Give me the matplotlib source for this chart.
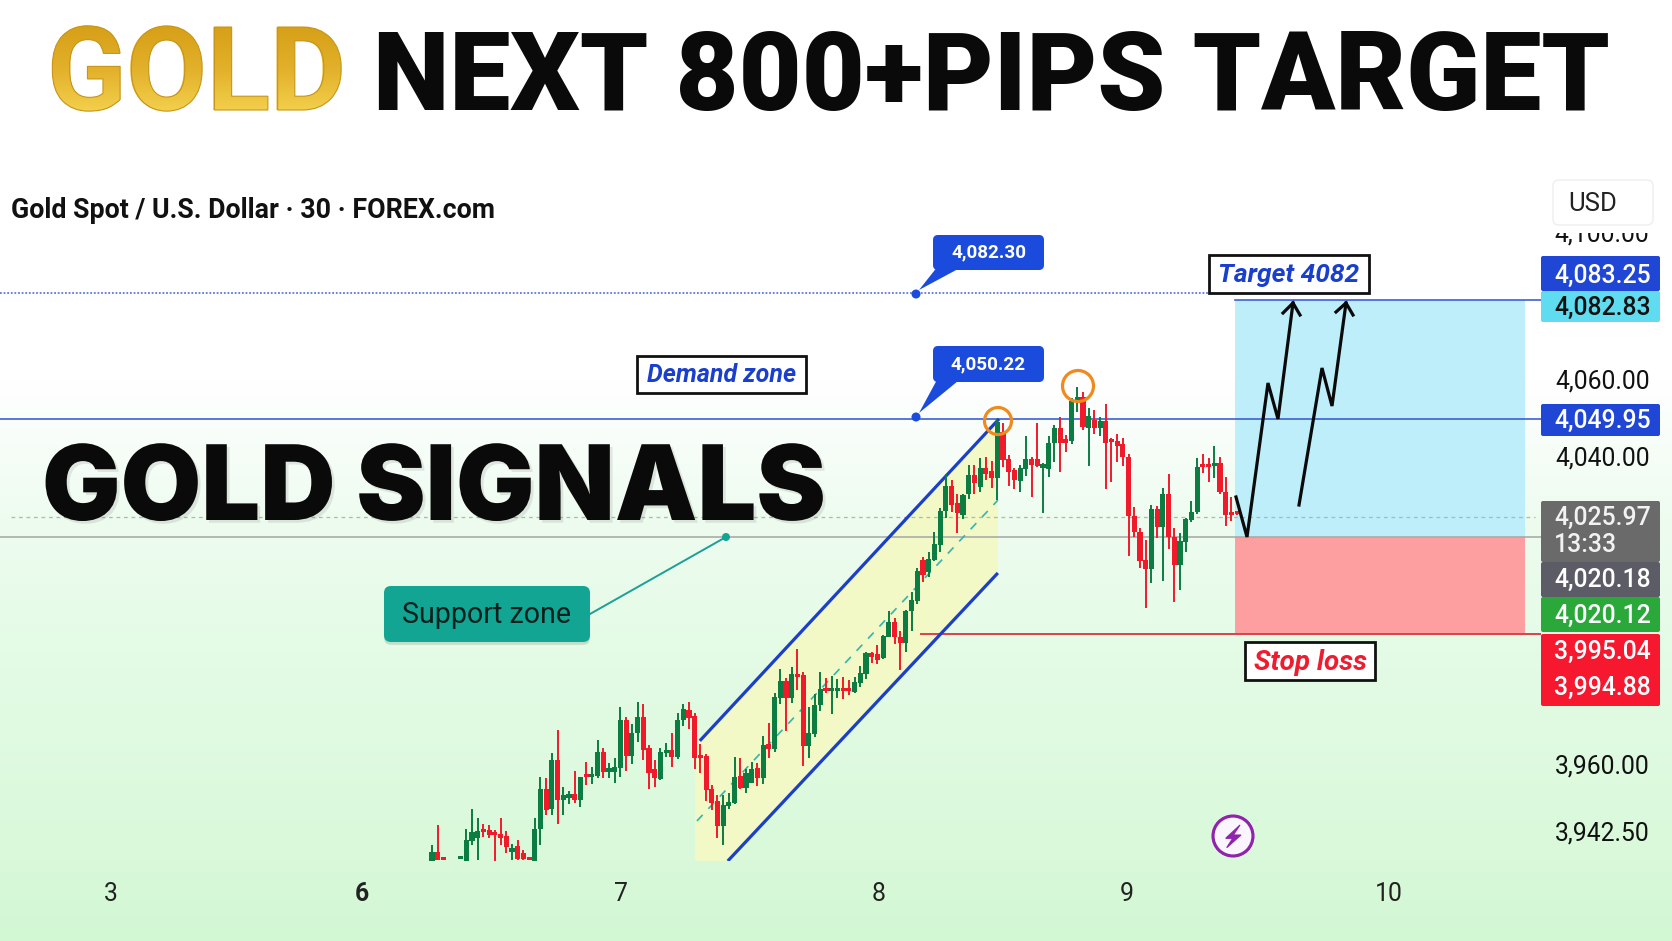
import numpy as np
import matplotlib
matplotlib.use("Agg")
import matplotlib.pyplot as plt
import matplotlib.patheffects as pe
from matplotlib.colors import LinearSegmentedColormap
from matplotlib.font_manager import FontProperties
from matplotlib.patches import Circle, FancyBboxPatch, PathPatch, Polygon, Rectangle
from matplotlib.textpath import TextPath
from matplotlib.transforms import Affine2D

plt.rcParams['font.family'] = ['Roboto', 'DejaVu Sans']

nan = float('nan')

# 30 minute candles (two missing bars near the start)
opens = [3934.8, 3937.2, 3935.7, nan, nan, 3935.2, 3934.8, 3940.1, 3940.8, 3942.8,
         3942.8, 3942.0, 3941.8, 3941.4, 3937.2, 3938.7, 3936.9, 3935.4, 3934.8, 3943.1,
         3953.6, 3948.3, 3961.0, 3950.6, 3951.2, 3952.1, 3950.6, 3957.1, 3956.5, 3957.0,
         3963.0, 3958.0, 3958.0, 3958.9, 3971.4, 3962.1, 3968.0, 3972.2, 3964.1, 3958.7,
         3956.2, 3962.9, 3963.6, 3961.9, 3971.4, 3974.0, 3972.4, 3962.1, 3962.1, 3953.5,
         3950.4, 3944.0, 3949.2, 3949.8, 3956.9, 3953.8, 3955.1, 3959.0, 3956.4, 3965.2,
         3963.9, 3977.1, 3981.5, 3977.1, 3983.4, 3983.1, 3964.7, 3967.8, 3975.3, 3979.7,
         3978.9, 3978.9, 3979.7, 3979.5, 3978.7, 3981.0, 3983.4, 3988.8, 3988.6, 3987.5,
         3993.0, 3996.9, 3993.0, 3991.4, 3999.7, 4002.3, 4013.0, 4009.9, 4013.0, 4016.9,
         4025.7, 4032.2, 4027.8, 4024.7, 4030.1, 4035.0, 4031.9, 4036.9, 4036.1, 4034.3,
         4046.2, 4039.2, 4036.3, 4033.5, 4036.6, 4039.2, 4039.2, 4036.9, 4036.6, 4043.4,
         4047.2, 4044.4, 4043.9, 4054.3, 4055.3, 4047.2, 4049.3, 4047.2, 4049.1, 4044.1,
         4043.9, 4043.1, 4039.7, 4024.4, 4020.2, 4013.0, 4010.6, 4026.2, 4021.5, 4030.1,
         4018.9, 4011.7, 4017.6, 4023.4, 4025.4, 4037.6, 4037.9, 4037.4, 4038.2, 4030.6,
         4025.2, 4025.2]
closes = [3937.2, 3935.0, 3935.0, nan, nan, 3935.5, 3940.2, 3942.3, 3942.7, 3942.3,
          3941.6, 3941.6, 3940.7, 3938.4, 3938.3, 3935.2, 3935.2, 3935.0, 3943.1, 3953.6,
          3948.0, 3961.0, 3950.6, 3951.9, 3952.1, 3950.6, 3956.7, 3956.5, 3957.3, 3963.0,
          3957.8, 3958.9, 3959.1, 3971.4, 3962.1, 3968.0, 3972.2, 3963.6, 3957.6, 3956.3,
          3963.2, 3963.6, 3961.9, 3971.4, 3974.2, 3972.0, 3961.6, 3961.6, 3953.2, 3949.8,
          3944.0, 3949.3, 3950.0, 3956.7, 3953.8, 3957.7, 3958.7, 3956.4, 3964.9, 3963.9,
          3977.4, 3981.5, 3977.1, 3983.4, 3982.6, 3964.7, 3968.0, 3975.3, 3979.5, 3978.9,
          3979.7, 3979.7, 3978.9, 3978.9, 3981.3, 3983.6, 3988.8, 3987.8, 3987.0, 3993.2,
          3996.9, 3993.0, 3991.4, 3999.7, 4002.6, 4010.1, 4009.1, 4013.2, 4017.1, 4025.7,
          4032.2, 4027.3, 4025.2, 4029.8, 4035.0, 4033.0, 4036.9, 4035.3, 4034.3, 4048.8,
          4038.9, 4035.8, 4033.7, 4036.9, 4039.2, 4037.6, 4037.4, 4037.9, 4043.4, 4047.2,
          4043.4, 4043.4, 4054.3, 4055.3, 4047.5, 4050.4, 4047.2, 4049.1, 4043.4, 4043.6,
          4042.6, 4039.7, 4024.4, 4020.2, 4012.7, 4010.6, 4026.2, 4021.5, 4030.1, 4018.9,
          4011.7, 4017.9, 4023.6, 4025.4, 4037.1, 4037.1, 4037.1, 4038.2, 4030.6, 4024.7,
          4024.7, 4024.9]
highs = [3938.9, 3944.1, 3935.9, nan, nan, 3935.6, 3943.0, 3948.2, 3946.0, 3944.4,
         3944.2, 3942.8, 3946.0, 3942.7, 3939.2, 3940.2, 3937.6, 3935.6, 3945.9, 3956.7,
         3956.3, 3962.8, 3968.8, 3954.1, 3953.1, 3958.2, 3956.7, 3960.6, 3959.1, 3966.2,
         3964.2, 3960.2, 3961.5, 3974.9, 3972.3, 3970.5, 3976.0, 3975.7, 3964.9, 3961.0,
         3964.1, 3965.5, 3968.1, 3973.3, 3975.5, 3976.1, 3973.3, 3965.1, 3962.6, 3954.5,
         3951.9, 3951.9, 3952.4, 3961.9, 3961.6, 3958.7, 3960.5, 3960.3, 3967.3, 3970.6,
         3978.4, 3984.7, 3982.3, 3985.2, 3989.9, 3983.9, 3974.8, 3978.2, 3983.9, 3982.3,
         3982.8, 3982.1, 3982.6, 3981.8, 3982.6, 3985.4, 3989.1, 3989.1, 3990.9, 3993.5,
         3999.7, 3997.9, 3994.5, 4000.0, 4004.7, 4010.9, 4013.7, 4015.0, 4020.2, 4026.5,
         4035.3, 4033.7, 4030.1, 4030.1, 4037.6, 4037.6, 4039.5, 4039.7, 4038.7, 4049.3,
         4048.5, 4040.3, 4036.9, 4037.6, 4045.2, 4039.7, 4048.5, 4038.2, 4045.2, 4048.0,
         4050.1, 4045.4, 4055.0, 4057.9, 4056.6, 4052.4, 4051.9, 4050.1, 4053.5, 4044.7,
         4045.7, 4044.7, 4040.5, 4026.7, 4021.3, 4018.2, 4027.3, 4027.0, 4031.7, 4035.3,
         4021.3, 4020.0, 4023.9, 4028.3, 4039.5, 4040.5, 4039.5, 4042.6, 4039.7, 4034.5,
         4029.3, 4025.2]
lows = [3934.8, 3935.0, 3935.0, nan, nan, 3935.2, 3934.8, 3938.9, 3935.0, 3941.1,
        3940.8, 3934.8, 3938.9, 3937.0, 3935.0, 3935.0, 3935.0, 3935.0, 3934.8, 3938.9,
        3946.7, 3946.7, 3944.4, 3946.7, 3949.6, 3949.9, 3948.9, 3954.5, 3954.8, 3956.3,
        3956.4, 3956.3, 3955.0, 3956.7, 3958.2, 3960.0, 3965.6, 3961.0, 3953.5, 3954.1,
        3955.8, 3961.9, 3959.3, 3961.3, 3969.9, 3969.2, 3958.6, 3957.6, 3950.5, 3948.0,
        3940.7, 3938.9, 3948.3, 3949.6, 3953.5, 3952.5, 3955.1, 3954.3, 3954.8, 3961.6,
        3963.1, 3975.6, 3968.6, 3975.8, 3979.2, 3959.5, 3961.6, 3967.0, 3973.8, 3978.4,
        3973.0, 3977.1, 3976.9, 3977.9, 3978.4, 3980.0, 3982.1, 3986.2, 3986.0, 3987.3,
        3993.0, 3991.2, 3984.4, 3989.1, 3994.5, 4001.5, 4007.3, 4008.6, 4012.7, 4015.0,
        4023.9, 4025.4, 4020.0, 4023.6, 4028.8, 4030.1, 4030.6, 4033.7, 4031.6, 4028.5,
        4037.1, 4032.2, 4031.4, 4030.6, 4034.8, 4029.3, 4037.1, 4025.2, 4034.5, 4038.4,
        4035.8, 4041.0, 4043.1, 4051.4, 4046.7, 4037.4, 4045.7, 4045.2, 4031.4, 4033.2,
        4038.4, 4037.4, 4014.0, 4018.9, 4010.9, 4000.5, 4007.0, 4018.7, 4007.5, 4015.8,
        4002.1, 4005.2, 4015.0, 4022.8, 4024.9, 4035.6, 4033.2, 4034.3, 4030.1, 4021.8,
        4023.1, 4024.7]

# levels as drawn on the chart
target_level = 4082.3
zone_top = 4080.5
demand_level = 4049.7
last_price = 4024.2
entry_level = 4019.0
stop_level = 3993.8

# trend channel, (bar, price)
channel_upper = [(46.9, 3966.0), (99.3, 4049.6)]
channel_lower = [(51.8, 3934.8), (99.1, 4009.6)]
channel_mid = [(46.4, 3945.2), (99.1, 4028.5)]
channel_fill = [(46.1, 3964.7), (99.1, 4049.3), (99.1, 4009.8), (51.8, 3934.8), (46.1, 3934.8)]

# axis labels
price_ticks = [4060.0, 4040.0, 3960.0, 3942.5]
day_tick_bars = [-56.2, -12.3, 33.1, 78.3, 121.7, 167.6]
day_tick_labels = ['3', '6', '7', '8', '9', '10']

W, H = 1672, 941
BAR0_PX, BAR_PX = 432, 5.71
CHART_TOP, CHART_BOTTOM, CHART_RIGHT = 233, 861, 1541
PX_PRICE0, PX_PER_PRICE = 4158.4, 0.2597

fig = plt.figure(figsize=(W / 100, H / 100), dpi=100)

# background gradient, white fading to pale green
bg = fig.add_axes([0, 0, 1, 1], zorder=0)
bg_cmap = LinearSegmentedColormap.from_list('bg', [
    (0.0, '#ffffff'), (380 / 941, '#ffffff'), (520 / 941, '#eefcf0'),
    (650 / 941, '#e4fbe6'), (860 / 941, '#d9f9da'), (1.0, '#d2f7d3')])
bg.imshow(np.linspace(0, 1, 941)[:, None], cmap=bg_cmap, aspect='auto', vmin=0, vmax=1)
bg.axis('off')

# the price chart
ax = fig.add_axes([0, (H - CHART_BOTTOM) / H, CHART_RIGHT / W, (CHART_BOTTOM - CHART_TOP) / H],
                  zorder=1)
ax.patch.set_alpha(0)
ax.set_xlim(-BAR0_PX / BAR_PX, (CHART_RIGHT - BAR0_PX) / BAR_PX)
ax.set_ylim(PX_PRICE0 - PX_PER_PRICE * CHART_BOTTOM, PX_PRICE0 - PX_PER_PRICE * CHART_TOP)
for s in ax.spines.values():
    s.set_visible(False)

zone_x0, zone_x1 = (1235 - BAR0_PX) / BAR_PX, (1525 - BAR0_PX) / BAR_PX
ax.add_patch(Rectangle((zone_x0, entry_level), zone_x1 - zone_x0, zone_top - entry_level,
                       fc='#bdeefa', ec='none', zorder=1))
ax.add_patch(Rectangle((zone_x0, stop_level), zone_x1 - zone_x0, entry_level - stop_level,
                       fc='#fd9ea0', ec='none', zorder=1))
ax.add_patch(Polygon(channel_fill, closed=True, fc='#f2f9c6', ec='none', zorder=1))

x_left, x_right = ax.get_xlim()
ax.plot([x_left, (1208 - BAR0_PX) / BAR_PX], [target_level] * 2, color='#5d78e0', lw=1.3,
        ls=(0, (1, 1)), zorder=2)
ax.plot([zone_x0, x_right], [zone_top] * 2, color='#3d5fd6', lw=1.2, zorder=2)
ax.axhline(demand_level, color='#3d5fd6', lw=1.2, zorder=2)
ax.plot([(11 - BAR0_PX) / BAR_PX, (1535 - BAR0_PX) / BAR_PX], [last_price] * 2, color='#a9bba9',
        lw=0.9, ls=(0, (3, 3)), zorder=2)
ax.axhline(entry_level, color='#a8aca8', lw=1.2, zorder=2)
ax.plot([(921 - BAR0_PX) / BAR_PX, x_right], [stop_level] * 2, color='#dd3f4a', lw=1.4, zorder=2)

for line in (channel_upper, channel_lower):
    ax.plot(*zip(*line), color='#1c3fc8', lw=2.3, solid_capstyle='butt', zorder=3)
ax.plot(*zip(*channel_mid), color='#37b3ad', lw=1.2, ls=(0, (5, 5)), zorder=3)

# candles
o, c, hi, lo = map(np.array, (opens, closes, highs, lows))
bars = np.arange(len(o))
colors = np.where(c >= o, '#0b7c42', '#f01a2b')
ok = ~np.isnan(o)
ax.vlines(bars[ok], lo[ok], hi[ok], colors=colors[ok], lw=1.4, zorder=4)
ax.bar(bars[ok], np.maximum(np.abs(c - o), 0.8)[ok], bottom=np.minimum(o, c)[ok], width=0.9,
       color=colors[ok], zorder=5)

ax.yaxis.tick_right()
ax.set_yticks(price_ticks)
ax.set_yticklabels([f'{p:,.2f}' for p in price_ticks])
ax.set_xticks(day_tick_bars)
ax.set_xticklabels(day_tick_labels)
ax.tick_params(axis='y', length=0, pad=10, labelsize=17.8, labelcolor='#111111')
ax.tick_params(axis='x', length=0, pad=15, labelsize=17.8, labelcolor='#222222')
ax.get_xticklabels()[1].set_fontweight('bold')

# everything else is laid out in picture pixels
over = fig.add_axes([0, 0, 1, 1], zorder=2)
over.patch.set_alpha(0)
over.axis('off')
over.set_xlim(0, W)
over.set_ylim(H, 0)
over.set_autoscale_on(False)

# headline
over.text(47, 110, 'GOLD', fontsize=84, fontweight='bold', color='#e4b52c', va='baseline', zorder=5)
gold_path = TextPath((0, 0), 'GOLD', size=116.7, prop=FontProperties(family='Roboto', weight='bold'))
gold_clip = PathPatch(gold_path, transform=Affine2D().scale(1, -1).translate(47, 110) + over.transData,
                      fc='none', ec='#c8951a', lw=0.8, zorder=7)
over.add_patch(gold_clip)
gold_cmap = LinearSegmentedColormap.from_list('gold', ['#d6a017', '#e2b02a', '#f3d04c'])
gold_img = over.imshow(np.linspace(0, 1, 64)[:, None], cmap=gold_cmap, extent=(40, 350, 112, 25),
                       aspect='auto', zorder=6)
gold_img.set_clip_path(gold_clip)
over.set_xlim(0, W)
over.set_ylim(H, 0)
over.text(373, 110, 'NEXT 800+PIPS TARGET', fontsize=78.3, fontweight='black', color='#0a0a0a',
          va='baseline', zorder=5)

over.text(11, 210, 'Gold Spot / U.S. Dollar · 30 · FOREX.com', fontsize=19.25, fontweight='bold',
          color='#111111', va='center')
over.text(42, 520, 'GOLD SIGNALS', fontsize=75, fontweight='black', family=['Inter', 'Roboto'],
          color='#0a0a0a', va='baseline', zorder=8,
          path_effects=[pe.withSimplePatchShadow(offset=(2, -2), alpha=0.12, shadow_rgbFace='#444444')])

# USD button and the clipped top tick
over.add_patch(FancyBboxPatch((1553, 180), 100, 45, boxstyle='round,pad=0,rounding_size=6',
                              fc='#ffffff', ec='#eeeeee', lw=1))
over.text(1568, 203.5, 'USD', fontsize=18.5, color='#222222', va='center')
top_tick = over.text(1554, 234, '4,100.00', fontsize=17.8, color='#111111', va='center', clip_on=True)
top_tick.set_clip_path(Rectangle((1500, 233), 170, 30, transform=over.transData))

# price tags on the right
tag_rows = [
    (256, 291, '#1f46d4', '#ffffff', ['4,083.25'], [275.5]),
    (291, 322, '#5fdcef', '#111111', ['4,082.83'], [307.5]),
    (404, 436, '#1f46d4', '#ffffff', ['4,049.95'], [420.5]),
    (501, 562, '#6a6a6a', '#f2f2f2', ['4,025.97', '13:33'], [518, 545.5]),
    (562, 597, '#5c5c66', '#ffffff', ['4,020.18'], [580]),
    (597, 632, '#2aa83a', '#ffffff', ['4,020.12'], [615.5]),
    (634, 706, '#f5182e', '#ffffff', ['3,995.04', '3,994.88'], [652, 688]),
]
for top, bottom, face, ink, labels, ys in tag_rows:
    over.add_patch(FancyBboxPatch((1541, top), 119, bottom - top, boxstyle='round,pad=0,rounding_size=2',
                                  fc=face, ec='none', zorder=3))
    for label, y in zip(labels, ys):
        over.text(1554, y, label, fontsize=17.8, fontweight='medium', color=ink, va='center', zorder=4)

# value callouts
for box_top, box_bottom, dot_y, label in [(235, 270, 294, '4,082.30'), (346, 382, 417, '4,050.22')]:
    over.add_patch(FancyBboxPatch((933, box_top), 111, box_bottom - box_top,
                                  boxstyle='round,pad=0,rounding_size=5', fc='#1a4bdc', ec='none', zorder=3))
    over.add_patch(Polygon([(938, box_bottom - 4), (958, box_bottom - 1), (919, dot_y - 4)], closed=True,
                           fc='#1a4bdc', ec='none', zorder=3))
    over.add_patch(Circle((916, dot_y), 4.5, fc='#1a4bdc', ec='none', zorder=3))
    over.text(988.5, (box_top + box_bottom) / 2, label, fontsize=13.6, fontweight='bold', color='#ffffff',
              ha='center', va='center', zorder=4)

# framed labels
for x0, x1, y0, y1, label, ink, size in [(637, 806, 356, 393, 'Demand zone', '#1a3fcc', 18),
                                         (1209, 1369, 255, 293, 'Target 4082', '#1a3fcc', 19),
                                         (1245, 1375, 642, 680, 'Stop loss', '#ee1c2e', 20)]:
    over.add_patch(Rectangle((x0, y0), x1 - x0, y1 - y0, fc='#ffffff', ec='#111111', lw=2, zorder=3))
    over.text((x0 + x1) / 2, (y0 + y1) / 2 + 1, label, fontsize=size, fontweight='bold', fontstyle='italic',
              color=ink, ha='center', va='center', zorder=4)

# support zone callout
over.plot([590, 726], [614, 537], color='#1aa095', lw=1.4, zorder=3)
over.add_patch(Circle((726, 537), 4, fc='#12a594', ec='none', zorder=3))
over.add_patch(FancyBboxPatch((384, 586), 206, 56, boxstyle='round,pad=0,rounding_size=7', fc='#12a594',
                              ec='none', zorder=3,
                              path_effects=[pe.withSimplePatchShadow(offset=(0, -2), alpha=0.15)]))
over.text(487, 615, 'Support zone', fontsize=20.6, color='#06201c', ha='center', va='center', zorder=4)

# orange peak markers
for cx, cy, r in [(998, 421, 13.5), (1078, 386, 15.5)]:
    over.add_patch(Circle((cx, cy), r, fc='none', ec='#f08a1d', lw=2.3, zorder=6))

# hand drawn projection arrows
for path in ([(1236, 497), (1247, 537), (1268, 383), (1278, 419), (1293, 303)],
             [(1299, 505), (1322, 368), (1332, 406), (1346, 303)]):
    over.plot(*zip(*path), color='#0a0a0a', lw=2.3, solid_joinstyle='miter', zorder=6)
for wings in ([(1283, 313), (1293, 303), (1300, 315)], [(1336, 312), (1346, 303), (1353, 315)]):
    over.plot(*zip(*wings), color='#0a0a0a', lw=2.3, solid_joinstyle='miter', zorder=6)

# lightning badge
over.add_patch(Circle((1233, 836), 22, fc='#ffffff', ec='none', zorder=3))
over.add_patch(Circle((1233, 836), 20, fc='#fbf5fd', ec='#8e24aa', lw=2.3, zorder=3))
bolt = [(1240, 825), (1225.7, 838.3), (1232.7, 838.3), (1226.7, 847.7), (1241, 835), (1233.3, 835)]
over.add_patch(Polygon(bolt, closed=True, fc='#8e24aa', ec='#8e24aa', lw=0.8, zorder=4))

fig.savefig('out.png', dpi=100)
